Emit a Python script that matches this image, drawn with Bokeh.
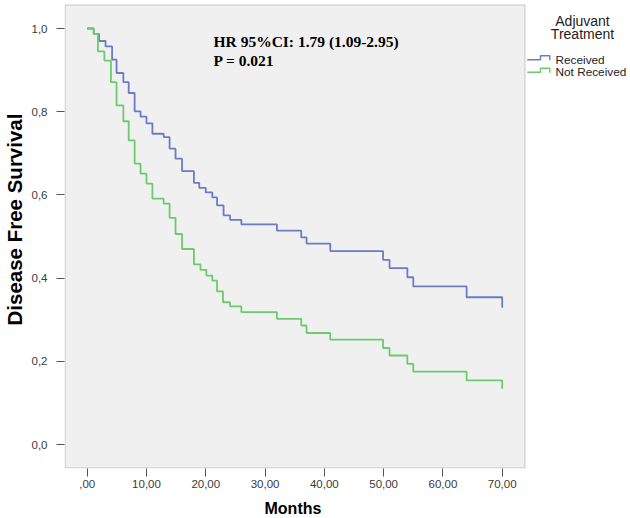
from bokeh.plotting import figure
from bokeh.models import Range1d, FixedTicker, Label, BoxAnnotation, Title
from bokeh.embed import file_html
from bokeh.resources import INLINE

# ---- data ----
months_received = [0, 1.1, 2.0, 3.1, 4.2, 4.95, 6.1, 7.0, 8.0, 9.0, 10.0, 11.0, 12.9, 13.9,
                   14.9, 16.0, 18.0, 18.9, 20.0, 21.1, 21.9, 23.0, 24.1, 26.0, 32.0, 36.1,
                   37.0, 41.0, 49.9, 51.0, 54.0, 55.0, 64.0, 70.0]
dfs_received = [1.0, 0.987, 0.970, 0.957, 0.925, 0.893, 0.871, 0.845, 0.801, 0.788, 0.772,
                0.747, 0.739, 0.711, 0.687, 0.657, 0.629, 0.617, 0.606, 0.594, 0.575, 0.551,
                0.540, 0.529, 0.514, 0.498, 0.483, 0.465, 0.444, 0.424, 0.402, 0.380, 0.354,
                0.329]

months_not_received = [0, 1.1, 1.8, 2.9, 4.0, 4.95, 6.1, 7.0, 8.0, 9.0, 10.0, 11.0, 12.9, 13.9,
                       14.9, 16.0, 18.0, 19.1, 20.1, 21.1, 21.9, 22.9, 24.1, 26.0, 32.0, 36.1,
                       37.0, 41.0, 49.9, 51.0, 54.0, 55.0, 64.0, 70.0]
dfs_not_received = [1.0, 0.987, 0.945, 0.923, 0.871, 0.815, 0.777, 0.731, 0.675, 0.651, 0.627,
                    0.591, 0.579, 0.545, 0.506, 0.470, 0.433, 0.420, 0.406, 0.394, 0.368, 0.342,
                    0.332, 0.318, 0.302, 0.286, 0.268, 0.252, 0.232, 0.214, 0.194, 0.175, 0.154,
                    0.134]

x_ticks = [0, 10, 20, 30, 40, 50, 60, 70]
x_tick_labels = [",00", "10,00", "20,00", "30,00", "40,00", "50,00", "60,00", "70,00"]
y_ticks = [0.0, 0.2, 0.4, 0.6, 0.8, 1.0]
y_tick_labels = ["0,0", "0,2", "0,4", "0,6", "0,8", "1,0"]

series_names = ["Received", "Not Received"]
legend_title_lines = ["Adjuvant", "Treatment"]
annotation_lines = ["HR 95%CI: 1.79 (1.09-2.95)", "P = 0.021"]
x_title = "Months"
y_title = "Disease Free Survival"

# ---- styles / layout ----
BLUE = "#6a7cc6"
GREEN = "#6ccb6c"
FRAME_BG = "#f0f0f0"
AXIS_COL = "#555555"
SANS = "Liberation Sans"
SERIF = "Liberation Serif"

# canvas geometry (pixels); plot box of the reference: x 64..525, y 4..468
LEFT, TOP = 64, 3
FRAME_W, FRAME_H = 566, 465
PX_PER_MONTH = 415 / 70.0      # 0 -> x=86.7, 70 -> x=501.7
PX_PER_UNIT = 416.0            # 0 -> y=444, 1 -> y=28
X_ZERO_PX, Y_ZERO_PX = 86.7, 444.0


def cx(px):  # canvas x pixel -> months
    return (px - X_ZERO_PX) / PX_PER_MONTH


def cy(py):  # canvas y pixel -> survival
    return (Y_ZERO_PX - py) / PX_PER_UNIT


p = figure(frame_width=FRAME_W, frame_height=FRAME_H,
           x_range=Range1d(cx(LEFT), cx(LEFT + FRAME_W)),
           y_range=Range1d(cy(TOP + FRAME_H), cy(TOP)),
           output_backend="svg", toolbar_location=None,
           min_border_left=LEFT, min_border_top=TOP, min_border_right=0, min_border_bottom=50,
           background_fill_color="white", border_fill_color="white",
           outline_line_color=None)

# grey plot box with its border
p.add_layout(BoxAnnotation(left=cx(64.5), right=cx(524.5), top=cy(4.5), bottom=cy(467.5),
                           fill_color=FRAME_BG, fill_alpha=1.0, line_color=AXIS_COL,
                           line_width=1, level="underlay"))

p.step(months_received, dfs_received, mode="after", line_color=BLUE, line_width=1.8)
p.step(months_not_received, dfs_not_received, mode="after", line_color=GREEN, line_width=1.8)

p.xgrid.visible = False
p.ygrid.visible = False

p.xaxis.ticker = FixedTicker(ticks=x_ticks)
p.xaxis.major_label_overrides = dict(zip(x_ticks, x_tick_labels))
p.yaxis.ticker = FixedTicker(ticks=y_ticks)
p.yaxis.major_label_overrides = dict(zip(y_ticks, y_tick_labels))

for ax in (p.xaxis[0], p.yaxis[0]):
    ax.major_tick_out = 8
    ax.major_tick_in = 0
    ax.minor_tick_out = 0
    ax.minor_tick_in = 0
    ax.axis_line_color = None
    ax.major_tick_line_color = AXIS_COL
    ax.major_label_text_font = SANS
    ax.major_label_text_font_size = "11.5px"
    ax.major_label_text_color = "#3a3a3a"

p.xaxis.major_label_standoff = 3
p.yaxis.major_label_standoff = 9

# axis titles as side-panel titles so they can be placed like the reference
p.add_layout(Title(text=x_title, align="left", offset=200, standoff=14, vertical_align="bottom",
                   text_font=SANS, text_font_style="bold", text_font_size="16px",
                   text_color="black"), "below")
p.add_layout(Title(text=y_title, align="left", offset=143, standoff=2, vertical_align="top",
                   text_font=SANS, text_font_style="bold", text_font_size="20.5px",
                   text_color="black"), "left")

# HR / P annotation
for txt, py in zip(annotation_lines, [40.7, 60]):
    p.add_layout(Label(x=cx(213), y=cy(py), text=txt, text_font=SERIF, text_font_style="bold",
                       text_font_size="15.5px", text_baseline="middle", text_color="black"))

# legend on the right
for txt, py in zip(legend_title_lines, [20.7, 33]):
    p.add_layout(Label(x=cx(582), y=cy(py), text=txt, text_font=SANS, text_font_size="14px",
                       text_align="center", text_baseline="middle", text_color="#222222"))

for name, col, py in zip(series_names, [BLUE, GREEN], [59.3, 71.7]):
    icon_x = [cx(526.7), cx(540), cx(540), cx(549.3), cx(549.3)]
    icon_y = [cy(py), cy(py), cy(py - 4), cy(py - 4), cy(py + 0.5)]
    p.line(icon_x, icon_y, line_color=col, line_width=1.4)
    p.add_layout(Label(x=cx(555), y=cy(py), text=name, text_font=SANS, text_font_size="11.8px",
                       text_baseline="middle", text_color="#222222"))

open("out.html", "w").write(file_html(p, INLINE))
